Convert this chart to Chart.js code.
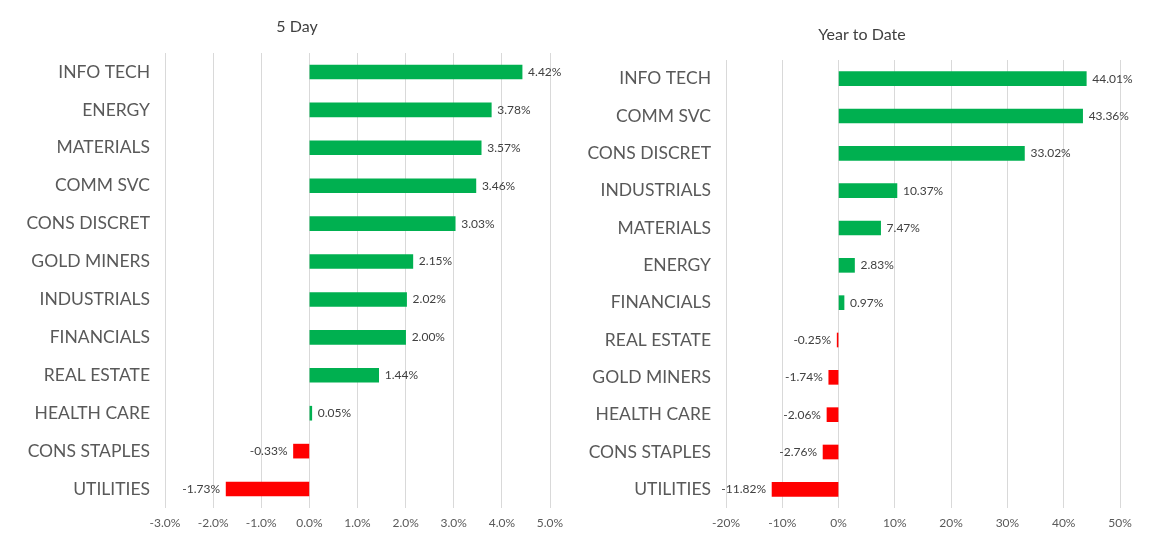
<!DOCTYPE html>
<html>
<head>
<meta charset="utf-8">
<script src="https://cdn.jsdelivr.net/npm/chart.js@4/dist/chart.umd.min.js"></script>
<style>
html,body{margin:0;padding:0;background:#fff;width:1153px;height:545px;overflow:hidden;}
canvas{position:absolute;top:0;}
#c1{left:0;}
#c2{left:575px;}
</style>
</head>
<body>
<canvas id="c1" width="575" height="545"></canvas>
<canvas id="c2" width="578" height="545"></canvas>
<script>
const fiveDayCategories = ["INFO TECH","ENERGY","MATERIALS","COMM SVC","CONS DISCRET","GOLD MINERS","INDUSTRIALS","FINANCIALS","REAL ESTATE","HEALTH CARE","CONS STAPLES","UTILITIES"];
const fiveDayValues = [4.42,3.78,3.57,3.46,3.03,2.15,2.02,2.00,1.44,0.05,-0.33,-1.73];
const ytdCategories = ["INFO TECH","COMM SVC","CONS DISCRET","INDUSTRIALS","MATERIALS","ENERGY","FINANCIALS","REAL ESTATE","GOLD MINERS","HEALTH CARE","CONS STAPLES","UTILITIES"];
const ytdValues = [44.01,43.36,33.02,10.37,7.47,2.83,0.97,-0.25,-1.74,-2.06,-2.76,-11.82];
const fiveDayTicks = {min:-3, max:5, step:1};
const ytdTicks = {min:-20, max:50, step:10};

const FONT = "Lato, 'Open Sans', sans-serif";
const GREEN = "#00B050", RED = "#FF0000";

const valueLabels = {
  id: 'valueLabels',
  afterDatasetsDraw(chart) {
    const ctx = chart.ctx;
    const meta = chart.getDatasetMeta(0);
    const data = chart.data.datasets[0].data;
    ctx.save();
    ctx.font = "12px " + FONT;
    ctx.fillStyle = "#404040";
    ctx.textBaseline = "middle";
    meta.data.forEach((bar, i) => {
      const v = data[i];
      const txt = v.toFixed(2) + "%";
      if (v >= 0) { ctx.textAlign = "left"; ctx.fillText(txt, bar.x + 6, bar.y); }
      else { ctx.textAlign = "right"; ctx.fillText(txt, bar.x - 6, bar.y); }
    });
    ctx.restore();
  }
};

const sideTitle = {
  id: 'sideTitle',
  afterDraw(chart, args, opts) {
    const ctx = chart.ctx;
    ctx.save();
    ctx.font = "16px " + FONT;
    ctx.fillStyle = "#404040";
    ctx.textAlign = "center";
    ctx.textBaseline = "middle";
    ctx.fillText(opts.text, opts.x, opts.y);
    ctx.restore();
  }
};

function makeChart(id, cats, vals, tk, cfg) {
  return new Chart(document.getElementById(id), {
    type: 'bar',
    data: {
      labels: cats,
      datasets: [{
        data: vals,
        backgroundColor: vals.map(v => v >= 0 ? GREEN : RED),
        barThickness: 14,
        borderWidth: 0
      }]
    },
    options: {
      indexAxis: 'y',
      responsive: false,
      animation: false,
      devicePixelRatio: 1,
      layout: { padding: { left: 0, right: cfg.pr, top: cfg.top, bottom: 0 } },
      plugins: {
        legend: { display: false },
        tooltip: { enabled: false },
        title: { display: false },
        sideTitle: { text: cfg.title, x: cfg.tx, y: cfg.ty }
      },
      scales: {
        x: {
          min: tk.min, max: tk.max,
          ticks: {
            stepSize: tk.step, color: "#595959", padding: 8,
            font: { family: FONT, size: 12 },
            callback: v => cfg.fmt(v)
          },
          grid: { color: "#D9D9D9", lineWidth: 1, drawTicks: false },
          border: { display: false },
          afterFit: s => { s.height = 37; }
        },
        y: {
          ticks: { color: "#595959", padding: 15, font: { family: FONT, size: 17.5 } },
          grid: { display: false, drawTicks: false },
          border: { display: false },
          afterFit: s => { s.width = cfg.yw; }
        }
      }
    },
    plugins: [valueLabels, sideTitle]
  });
}

makeChart('c1', fiveDayCategories, fiveDayValues, fiveDayTicks,
  { title: "5 Day", tx: 297, ty: 27, pr: 25, yw: 165, top: 53, fmt: v => v.toFixed(1) + "%" });
makeChart('c2', ytdCategories, ytdValues, ytdTicks,
  { title: "Year to Date", tx: 287, ty: 35, pr: 33, yw: 151, top: 60, fmt: v => Math.round(v) + "%" });
</script>
</body>
</html>
